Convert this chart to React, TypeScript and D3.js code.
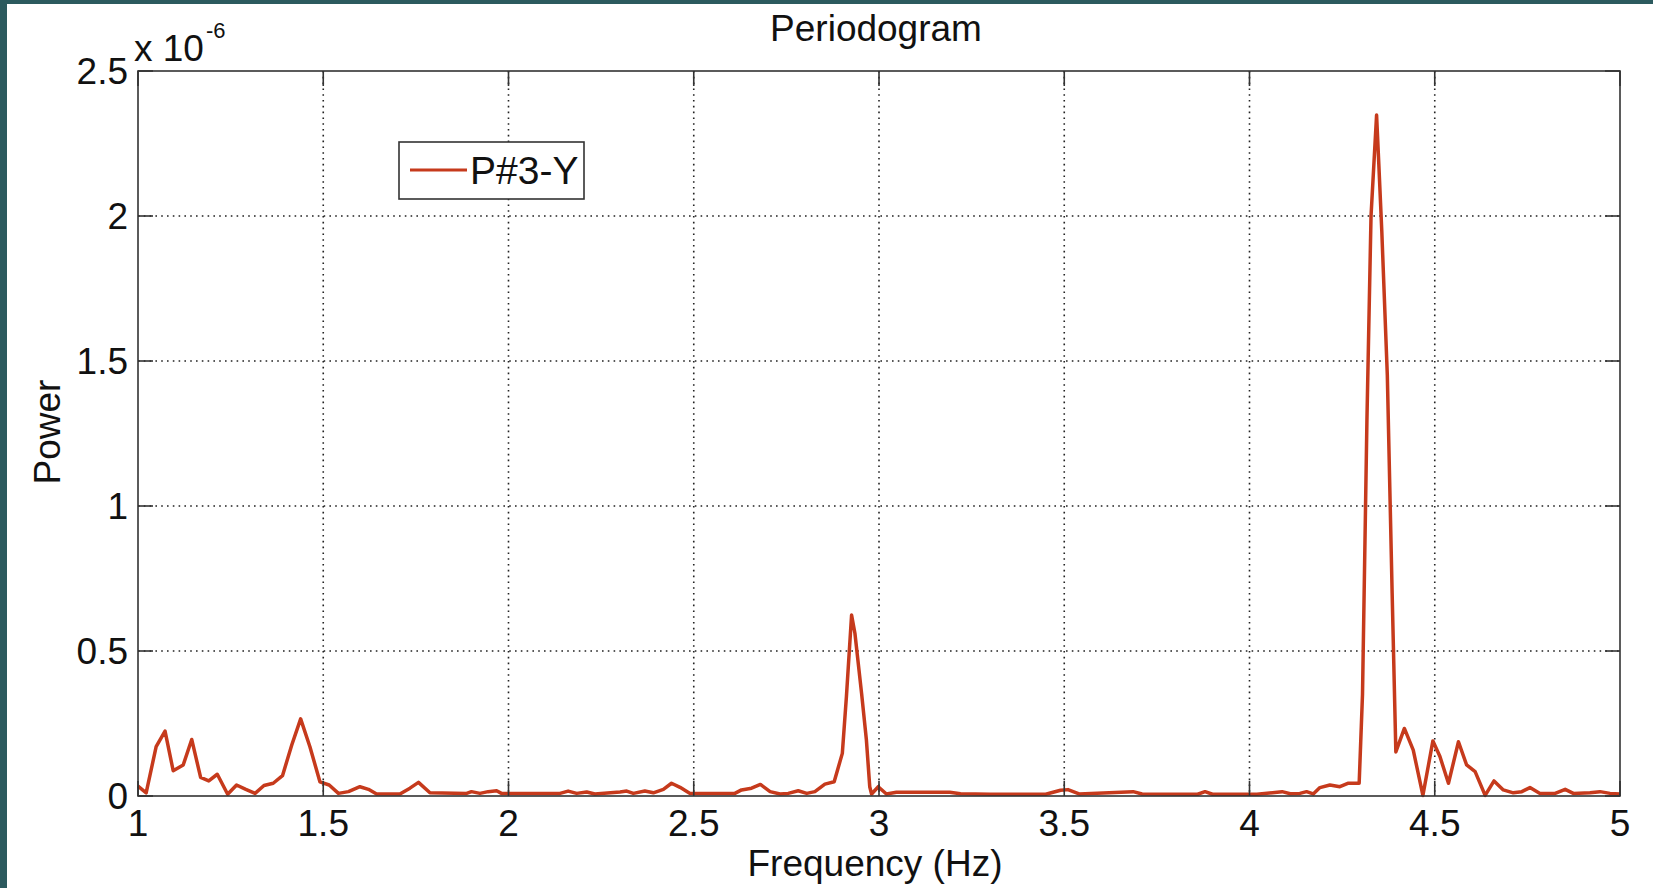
import React from 'react';
import * as d3 from 'd3';

// Periodogram of P#3-Y, power in units of 1e-6
const freq = [
  1.000, 1.022, 1.049, 1.073, 1.095, 1.122, 1.145, 1.169, 1.191, 1.214,
  1.242, 1.266, 1.291, 1.316, 1.340, 1.365, 1.390, 1.415, 1.439, 1.464,
  1.491, 1.516, 1.541, 1.568, 1.599, 1.622, 1.644, 1.707, 1.734, 1.757,
  1.788, 1.887, 1.900, 1.923, 1.945, 1.968, 1.981, 2.139, 2.161, 2.184,
  2.211, 2.233, 2.301, 2.319, 2.337, 2.368, 2.391, 2.418, 2.440, 2.463,
  2.490, 2.611, 2.629, 2.656, 2.680, 2.706, 2.733, 2.755, 2.782, 2.805,
  2.827, 2.854, 2.879, 2.901, 2.912, 2.926, 2.935, 2.953, 2.966, 2.975,
  2.980, 2.998, 3.020, 3.047, 3.065, 3.101, 3.191, 3.220, 3.300, 3.450,
  3.490, 3.510, 3.540, 3.686, 3.710, 3.860, 3.880, 3.900, 4.020, 4.088,
  4.110, 4.136, 4.154, 4.172, 4.190, 4.217, 4.244, 4.267, 4.296, 4.305,
  4.317, 4.328, 4.343, 4.349, 4.357, 4.372, 4.385, 4.395, 4.418, 4.442,
  4.468, 4.495, 4.514, 4.537, 4.564, 4.586, 4.609, 4.636, 4.660, 4.685,
  4.712, 4.735, 4.757, 4.784, 4.825, 4.852, 4.874, 4.919, 4.946, 4.973,
  5.000,
];

const power = [
  0.034, 0.011, 0.170, 0.224, 0.087, 0.107, 0.195, 0.064, 0.052, 0.075,
  0.006, 0.038, 0.023, 0.009, 0.036, 0.044, 0.070, 0.176, 0.266, 0.170,
  0.049, 0.038, 0.009, 0.015, 0.032, 0.023, 0.007, 0.007, 0.027, 0.047,
  0.011, 0.009, 0.015, 0.009, 0.015, 0.018, 0.009, 0.009, 0.017, 0.009,
  0.014, 0.007, 0.014, 0.017, 0.009, 0.017, 0.011, 0.023, 0.044, 0.030,
  0.009, 0.009, 0.021, 0.027, 0.040, 0.015, 0.007, 0.009, 0.018, 0.009,
  0.015, 0.041, 0.049, 0.147, 0.342, 0.624, 0.561, 0.354, 0.193, 0.032,
  0.007, 0.032, 0.007, 0.013, 0.013, 0.013, 0.013, 0.008, 0.006, 0.006,
  0.020, 0.022, 0.007, 0.015, 0.007, 0.006, 0.015, 0.006, 0.006, 0.015,
  0.008, 0.009, 0.015, 0.007, 0.029, 0.038, 0.032, 0.044, 0.044, 0.350,
  1.300, 2.000, 2.348, 2.180, 1.950, 1.450, 0.700, 0.152, 0.233, 0.158,
  0.002, 0.190, 0.136, 0.044, 0.187, 0.107, 0.084, 0.002, 0.052, 0.021,
  0.011, 0.015, 0.029, 0.009, 0.009, 0.023, 0.009, 0.011, 0.015, 0.009,
  0.007,
];

const xTicks = [1, 1.5, 2, 2.5, 3, 3.5, 4, 4.5, 5];
const xTickLabels = ['1', '1.5', '2', '2.5', '3', '3.5', '4', '4.5', '5'];
const yTicks = [0, 0.5, 1, 1.5, 2, 2.5];
const yTickLabels = ['0', '0.5', '1', '1.5', '2', '2.5'];

const seriesName = 'P#3-Y';
const lineColor = '#c63a1c';
const axisColor = '#333';
const font = '"Liberation Sans", Arial, sans-serif';

export default function App() {
  const W = 1653;
  const H = 888;
  const plot = { left: 138, right: 1620, top: 71, bottom: 796 };

  const x = d3.scaleLinear().domain([1, 5]).range([plot.left, plot.right]);
  const y = d3.scaleLinear().domain([0, 2.5]).range([plot.bottom, plot.top]);

  const line = d3.line<number>()
    .x((_, i) => x(freq[i]))
    .y(d => y(d));

  const tickLen = 15;

  return (
    <div style={{ position: 'fixed', left: 0, top: 0 }}>
      <svg width={W} height={H} style={{ display: 'block', fontFamily: font }}>
        <rect x={0} y={0} width={W} height={H} fill="#fff" />
        {/* slide border */}
        <rect x={0} y={0} width={W} height={4} fill="#2c5a5e" />
        <rect x={0} y={0} width={7} height={H} fill="#2c5a5e" />

        {/* grid */}
        <g stroke="#222" strokeWidth={1.6} strokeDasharray="1.6,4.2">
          {xTicks.slice(1, -1).map(t => (
            <line key={'gx' + t} x1={x(t)} x2={x(t)} y1={plot.top} y2={plot.bottom} />
          ))}
          {yTicks.slice(1, -1).map(t => (
            <line key={'gy' + t} x1={plot.left} x2={plot.right} y1={y(t)} y2={y(t)} />
          ))}
        </g>

        {/* series */}
        <path d={line(power) || ''} fill="none" stroke={lineColor} strokeWidth={3.5} strokeLinejoin="round" />

        {/* axes box and ticks */}
        <rect x={plot.left} y={plot.top} width={plot.right - plot.left} height={plot.bottom - plot.top}
          fill="none" stroke={axisColor} strokeWidth={1.6} />
        <g stroke={axisColor} strokeWidth={1.6}>
          {xTicks.map(t => (
            <g key={'tx' + t}>
              <line x1={x(t)} x2={x(t)} y1={plot.bottom} y2={plot.bottom - tickLen} />
              <line x1={x(t)} x2={x(t)} y1={plot.top} y2={plot.top + tickLen} />
            </g>
          ))}
          {yTicks.map(t => (
            <g key={'ty' + t}>
              <line x1={plot.left} x2={plot.left + tickLen} y1={y(t)} y2={y(t)} />
              <line x1={plot.right} x2={plot.right - tickLen} y1={y(t)} y2={y(t)} />
            </g>
          ))}
        </g>

        {/* tick labels */}
        <g fontSize={37} fill="#111">
          {xTicks.map((t, i) => (
            <text key={'lx' + t} x={x(t)} y={836} textAnchor="middle">{xTickLabels[i]}</text>
          ))}
          {yTicks.map((t, i) => (
            <text key={'ly' + t} x={128} y={y(t) + 13.3} textAnchor="end">{yTickLabels[i]}</text>
          ))}
        </g>

        {/* exponent */}
        <text x={134} y={61} fontSize={37} fill="#111">x 10</text>
        <text x={206} y={38} fontSize={22} fill="#111">-6</text>

        {/* title and axis labels */}
        <text x={876} y={41} fontSize={37} textAnchor="middle" fill="#111">Periodogram</text>
        <text x={875} y={876} fontSize={37} textAnchor="middle" fill="#111">Frequency (Hz)</text>
        <text transform="translate(60,432) rotate(-90)" fontSize={37} textAnchor="middle" fill="#111">Power</text>

        {/* legend */}
        <rect x={399} y={142} width={185} height={57} fill="#fff" stroke={axisColor} strokeWidth={1.6} />
        <line x1={410} x2={467} y1={170} y2={170} stroke={lineColor} strokeWidth={3} />
        <text x={470} y={184} fontSize={39} fill="#111">{seriesName}</text>
      </svg>
    </div>
  );
}
